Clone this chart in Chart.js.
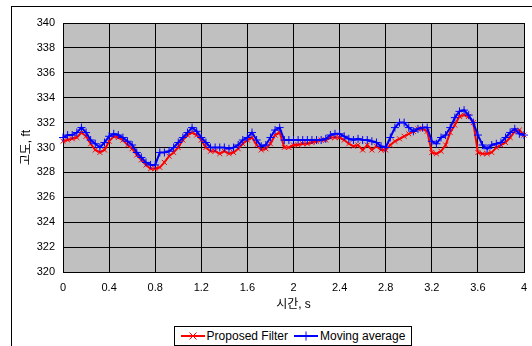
<!DOCTYPE html>
<html>
<head>
<meta charset="utf-8">
<script src="https://cdn.jsdelivr.net/npm/chart.js@4.4.0/dist/chart.umd.min.js"></script>
<style>
  body { margin: 0; background: #fff; }
  #wrap { position: relative; width: 532px; height: 346px; overflow: hidden; }
  #frame { position: absolute; left: 11px; top: 6px; width: 600px; height: 400px;
           border-left: 1px solid #000; border-top: 1px solid #000; }
  #legend { position: absolute; left: 174px; top: 326px; height: 18px; width: 236px;
            border: 1px solid #000; background: #fff; font: 12px 'Liberation Sans', Arial, sans-serif;
            display: flex; align-items: center; justify-content: center; white-space: nowrap; }
  #legend span { display: inline-flex; align-items: center; margin: 0 3px; }
  #legend canvas { margin-right: 2px; }
</style>
</head>
<body>
<div id="wrap">
  <div id="frame"></div>
  <canvas id="mycanvas" width="532" height="346"></canvas>
  <div id="legend"></div>
</div>
<script>
var seriesNames = ["Proposed Filter", "Moving average"];
var xTicks = [0, 0.4, 0.8, 1.2, 1.6, 2, 2.4, 2.8, 3.2, 3.6, 4];
var yTicks = [320, 322, 324, 326, 328, 330, 332, 334, 336, 338, 340];

// time samples, s
var times = [];
for (var k = 0; k <= 100; k++) times.push(+(k * 0.04).toFixed(2));

// 고도, ft - proposed filter
var filtered = [
  330.5, 330.6, 330.7, 330.8, 331.2, 330.9, 330.3, 329.8, 329.6, 329.8,
  330.5, 330.9, 330.8, 330.6, 330.2, 329.9, 329.4, 329.0, 328.6, 328.3,
  328.3, 328.4, 328.8, 329.3, 329.6, 330.0, 330.6, 331.0, 331.2, 331.0,
  330.6, 330.0, 329.7, 329.7, 329.5, 329.7, 329.5, 329.6, 329.9, 330.3,
  330.6, 330.8, 330.2, 329.8, 329.9, 330.3, 331.0, 331.2, 330.0, 330.0,
  330.2, 330.2, 330.3, 330.3, 330.4, 330.5, 330.6, 330.6, 330.8, 330.8,
  330.8, 330.6, 330.3, 330.1, 330.2, 329.8, 330.2, 329.8, 330.1, 329.8,
  329.8, 330.2, 330.5, 330.7, 330.9, 331.1, 331.3, 331.5, 331.5, 331.3,
  329.6, 329.5, 329.7, 330.2, 331.2, 331.8, 332.5, 332.6, 332.5, 332.0,
  329.6, 329.5, 329.5, 329.6, 330.0, 330.2, 330.4, 330.8, 331.3, 331.4,
  331.0
];

// 고도, ft - moving average
var movingAvg = [
  330.8, 331.0, 331.0, 331.2, 331.6, 331.2, 330.6, 330.3, 330.0, 330.4,
  330.9, 331.1, 331.0, 330.8, 330.5, 330.2, 329.6, 329.2, 328.8, 328.6,
  328.6, 329.6, 329.6, 329.7, 330.0, 330.4, 330.8, 331.2, 331.6, 331.3,
  330.8, 330.4, 330.0, 330.0, 330.0, 330.0, 329.9, 330.0, 330.2, 330.6,
  330.8, 331.2, 330.6, 330.1, 330.2, 330.8, 331.4, 331.6, 330.6, 330.6,
  330.6, 330.6, 330.6, 330.6, 330.6, 330.6, 330.6, 330.7, 331.0, 331.1,
  331.1, 330.9, 330.7, 330.6, 330.7, 330.6, 330.6, 330.5, 330.4, 330.1,
  330.0, 330.8, 331.6, 332.0, 332.0, 331.6, 331.3, 331.5, 331.6, 331.6,
  330.5, 330.3, 330.8, 331.0, 331.6, 332.4, 332.9, 333.0, 332.6, 332.0,
  331.0, 330.2, 329.9, 330.2, 330.3, 330.4, 330.8, 331.2, 331.5, 331.1,
  331.0
];

var colors = ["#ff0000", "#0000ff"];
var markers = ["crossRot", "cross"];

function toPoints(ys) {
  var pts = [];
  for (var i = 0; i < ys.length; i++) pts.push({ x: times[i], y: ys[i] });
  return pts;
}

var plotBg = {
  id: 'plotBg',
  beforeDraw: function(chart) {
    var a = chart.chartArea, c = chart.ctx;
    c.save();
    c.fillStyle = '#c0c0c0';
    c.fillRect(a.left, a.top, a.right - a.left, a.bottom - a.top);
    c.restore();
  }
};

var font = "'Liberation Sans', 'Noto Sans CJK KR', Arial, sans-serif";

var chartdata = {
  datasets: [
    {
      label: seriesNames[0],
      data: toPoints(filtered),
      borderColor: colors[0],
      backgroundColor: colors[0],
      borderWidth: 2,
      pointStyle: markers[0],
      pointRadius: 3.5,
      pointBorderWidth: 1,
      clip: false,
      order: 1
    },
    {
      label: seriesNames[1],
      data: toPoints(movingAvg),
      borderColor: colors[1],
      backgroundColor: colors[1],
      borderWidth: 2,
      pointStyle: markers[1],
      pointRadius: 4,
      pointBorderWidth: 1,
      clip: false,
      order: 0
    }
  ]
};

var ctx = document.getElementById('mycanvas');
var LineGraph = new Chart(ctx, {
  type: 'line',
  data: chartdata,
  plugins: [plotBg],
  options: {
    responsive: false,
    animation: false,
    layout: { autoPadding: false, padding: { left: 12, top: 23, right: 8, bottom: 34 } },
    plugins: { legend: { display: false }, tooltip: { enabled: false } },
    scales: {
      x: {
        type: 'linear',
        min: 0, max: 4,
        afterBuildTicks: function(s) { s.ticks = xTicks.map(function(v) { return { value: v }; }); },
        afterFit: function(s) { s.height = 40; s.paddingLeft = 0; s.paddingRight = 0; },
        ticks: { color: '#000', font: { family: font, size: 11 }, padding: 9, maxRotation: 0,
                 callback: function(v) { return String(v); } },
        grid: { color: '#000', lineWidth: 1, drawTicks: false },
        border: { color: '#000' },
        title: { display: true, text: '시간, s', color: '#000', font: { family: font, size: 12 },
                 padding: { top: 0, bottom: 0 } }
      },
      y: {
        min: 320, max: 340,
        afterBuildTicks: function(s) { s.ticks = yTicks.map(function(v) { return { value: v }; }); },
        afterFit: function(s) { s.width = 51; s.paddingTop = 0; s.paddingBottom = 0; },
        ticks: { color: '#000', font: { family: font, size: 11 }, padding: 8 },
        grid: { color: '#000', lineWidth: 1, drawTicks: false },
        border: { color: '#000' },
        title: { display: true, text: '고도, ft', color: '#000', font: { family: font, size: 12 },
                 padding: { top: 7, bottom: 0 } }
      }
    }
  }
});

// legend
var leg = document.getElementById('legend');
seriesNames.forEach(function(name, i) {
  var item = document.createElement('span');
  var sw = document.createElement('canvas');
  sw.width = 24; sw.height = 12;
  var c = sw.getContext('2d');
  c.strokeStyle = colors[i];
  c.lineWidth = 2;
  c.beginPath(); c.moveTo(0, 6); c.lineTo(24, 6); c.stroke();
  c.lineWidth = 1;
  c.beginPath();
  if (markers[i] === 'crossRot') {
    c.moveTo(8.5, 2.5); c.lineTo(15.5, 9.5); c.moveTo(15.5, 2.5); c.lineTo(8.5, 9.5);
  } else {
    c.moveTo(12, 1.5); c.lineTo(12, 10.5); c.moveTo(7.5, 6); c.lineTo(16.5, 6);
  }
  c.stroke();
  item.appendChild(sw);
  item.appendChild(document.createTextNode(name));
  leg.appendChild(item);
});
</script>
</body>
</html>
